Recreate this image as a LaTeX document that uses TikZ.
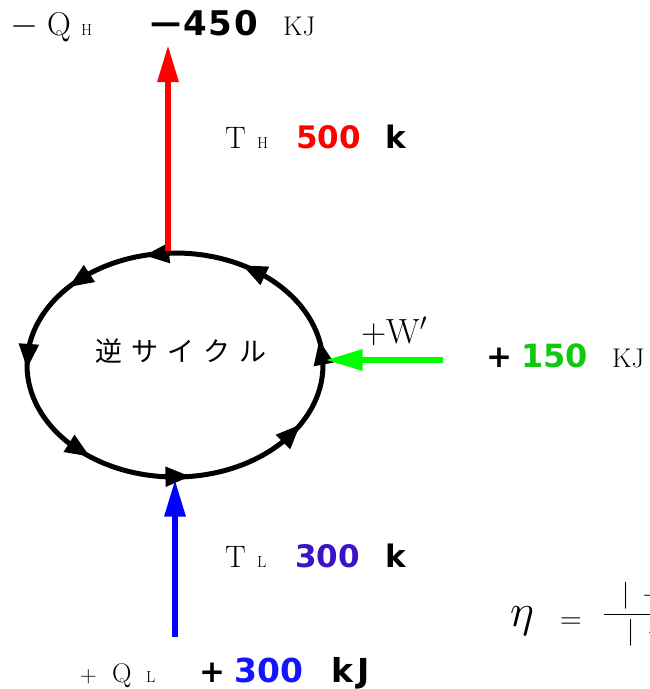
\RequirePackage{fix-cm}
\documentclass[tikz,border=0pt]{standalone}
\usepackage{fontspec}
\usetikzlibrary{arrows.meta,shapes.geometric}
\newfontfamily\jpfont{Noto Sans CJK JP}
\newfontfamily\numfont{DejaVu Sans}
\definecolor{wgreen}{RGB}{0,255,0}
\definecolor{valgreen}{RGB}{16,200,16}
\definecolor{valpurple}{RGB}{60,20,200}
\definecolor{valblue}{RGB}{20,20,255}
\begin{document}
\begin{tikzpicture}[x=1pt, y=-1pt,
  txt/.style={anchor=base west, inner sep=0pt, font=\fontsize{31}{33}\selectfont},
  sub/.style={anchor=base west, inner sep=0pt, font=\fontsize{16}{18}\selectfont},
  num/.style={anchor=base west, inner sep=0pt, font=\numfont\bfseries\fontsize{31}{33}\selectfont},
  bignum/.style={num, font=\numfont\bfseries\fontsize{34}{36}\selectfont},
  unit/.style={anchor=base west, inner sep=0pt, font=\fontsize{27}{29}\selectfont},
  flow/.style={line width=6pt, -{Triangle[length=37pt,width=20pt]}},
  turn/.style={line width=5pt, -{Triangle[length=25pt,width=19pt]}}]
\useasboundingbox (0,0) rectangle (650,689);
% the cycle
\node[draw, ellipse, line width=5pt, minimum width=296pt, minimum height=224pt, inner sep=0pt] (cycle) at (175,365) {};
\foreach \a in {13,63,102,136,182,235,276,328}
  \draw[turn] ({175+148*cos(\a-10)},{365-112*sin(\a-10)}) -- ({175+148*cos(\a)},{365-112*sin(\a)});
\node[font=\jpfont\fontsize{27}{29}\selectfont, inner sep=0pt] (cyclename) at (181,351) {逆\hskip9pt サ\hskip9pt イ\hskip9pt ク\hskip9pt ル};
% heat, work
\coordinate (qhend) at (168,45);
\coordinate (qlstart) at (175,637);
\coordinate (wstart) at (443,360);
\draw[flow, red] (cycle.north -| qhend) -- (qhend);
\draw[flow, blue] (qlstart) -- (cycle.south);
\draw[flow, wgreen] (wstart) -- (cycle.east |- wstart);
% top row
\node[txt, font=\fontsize{36}{38}\selectfont] (qhsign) at (10,35) {$-$};
\node[txt, font=\fontsize{33}{35}\selectfont] (qh) at (47,35) {Q};
\node[sub] (qhsub) at (81,35) {H};
\node[bignum] (qhsign2) at (147,35) {\scalebox{1.3}[1]{−}};
\node[bignum] (qhval) at (183,35) {4\kern2pt 5\kern2pt 0};
\node[unit] (qhunit) at (283,35) {KJ};
% hot side
\node[txt] (th) at (225,148) {T};
\node[sub] (thsub) at (257,148) {H};
\node[num, text=red] (thval) at (296,148) {500};
\node[num] (thunit) at (385,148) {k};
% work in
\node[txt, font=\fontsize{35}{37}\selectfont] (w) at (361,343) {$+\mathrm{W}'$};
\node[num] (wsign) at (486,367) {+};
\node[num, font=\numfont\bfseries\fontsize{32}{34}\selectfont, text=valgreen] (wval) at (521,367) {150};
\node[unit] (wunit) at (612,367) {KJ};
% cold side
\node[txt] (tl) at (225,567) {T};
\node[sub] (tlsub) at (257,567) {L};
\node[num, text=valpurple] (tlval) at (295,567) {300};
\node[num] (tlunit) at (385,567) {k};
% bottom row
\node[txt, font=\fontsize{23}{25}\selectfont] (qlsign) at (80,682) {$+$};
\node[txt, font=\fontsize{27}{29}\selectfont] (ql) at (112,682) {Q};
\node[sub] (qlsub) at (146,682) {L};
\node[num] (qlvalsign) at (199,682) {+};
\node[num, font=\numfont\bfseries\fontsize{33}{35}\selectfont, text=valblue] (qlval) at (234,682) {300};
\node[num, font=\numfont\bfseries\fontsize{33}{35}\selectfont] (qlunit) at (331,682) {k\kern4pt J};
% efficiency
\node[anchor=base west, inner sep=0pt, font=\fontsize{46}{48}\selectfont] (eta) at (510,626) {$\eta$};
\node[anchor=base west, inner sep=0pt, font=\fontsize{30}{32}\selectfont] (etaeq) at (560,628) {$=$};
\node[anchor=base west, inner sep=0pt, font=\fontsize{27}{29}\selectfont] (etafrac) at (603,621) {$\displaystyle\frac{\;\,|\;+Q_{L}|}{\;\;\;|\;+W'|}$};
\end{tikzpicture}
\end{document}
